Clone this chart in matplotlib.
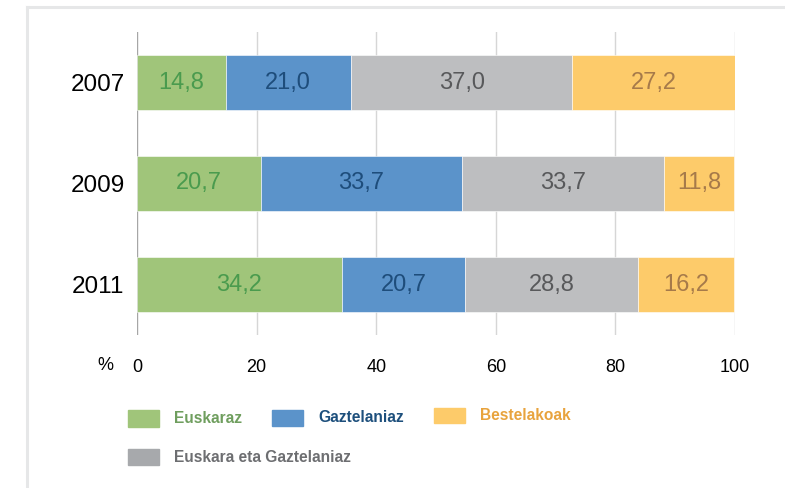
import matplotlib
matplotlib.use("Agg")
import matplotlib.pyplot as plt
from matplotlib.lines import Line2D
from matplotlib.patches import Rectangle

years = ["2007", "2009", "2011"]
euskaraz = [14.8, 20.7, 34.2]
gaztelaniaz = [21.0, 33.7, 20.7]
biak = [37.0, 33.7, 28.8]
bestelakoak = [27.2, 11.8, 16.2]
xticks = [0, 20, 40, 60, 80, 100]

series = [
    ("Euskaraz", euskaraz, "#a0c57a", "#4a9b4e"),
    ("Gaztelaniaz", gaztelaniaz, "#5b93ca", "#1e4d7b"),
    ("Euskara eta Gaztelaniaz", biak, "#bdbec0", "#58595b"),
    ("Bestelakoak", bestelakoak, "#fdcb6a", "#a67a4a"),
]

W, H = 785, 488
fig = plt.figure(figsize=(W / 100, H / 100), dpi=100)
ax = fig.add_axes([137 / W, 1 - 335 / H, (735 - 137) / W, (335 - 32) / H])

ypos = list(range(len(years)))
left = [0.0] * len(years)
for name, vals, col, tcol in series:
    bars = ax.barh(ypos, vals, left=left, height=0.55, color=col,
                   edgecolor="white", linewidth=0.4, zorder=3)
    for b, v in zip(bars, vals):
        ax.text(b.get_x() + b.get_width() / 2, b.get_y() + b.get_height() / 2,
                f"{v:.1f}".replace(".", ","), ha="center", va="center",
                fontsize=17, color=tcol, family="Liberation Sans", zorder=4)
    left = [l + v for l, v in zip(left, vals)]

ax.set_xlim(0, 100)
ax.set_ylim(len(years) - 0.5, -0.5)
ax.set_yticks(ypos)
ax.set_yticklabels(years, fontsize=17.5, family="Liberation Sans")
ax.set_xticks(xticks)
ax.set_xticklabels([str(t) for t in xticks], fontsize=13,
                   family="Liberation Sans")
ax.tick_params(axis="x", length=0, pad=17)
ax.tick_params(axis="y", length=0, pad=9)
for s in ax.spines.values():
    s.set_visible(False)
for t in xticks:
    ax.axvline(t, color="#a6a6a6" if t == 0 else "#d6d6d6", lw=1, zorder=1)

fig.text(113 / W, 1 - 366 / H, "%", ha="right", va="center", fontsize=13,
         family="Liberation Sans")

# frame
fig.add_artist(Line2D([27 / W, 1], [1 - 7 / H, 1 - 7 / H], color="#e6e7e8", lw=2.2))
fig.add_artist(Line2D([27 / W, 27 / W], [0, 1 - 7 / H], color="#e6e7e8", lw=2.2))

# legend
leg = [
    ("Euskaraz", "#a0c57a", "#6f9e5e", 128, 410, 427),
    ("Gaztelaniaz", "#5b93ca", "#1d4f7c", 272, 410, 426),
    ("Bestelakoak", "#fdcb6a", "#e8a33d", 434, 408, 423),
    ("Euskara eta Gaztelaniaz", "#a7a9ac", "#6d6e71", 128, 449, 465),
]
for name, pcol, tcol, x0, y0, y1 in leg:
    fig.add_artist(Rectangle((x0 / W, 1 - y1 / H), 31 / W, (y1 - y0) / H,
                             transform=fig.transFigure, color=pcol))
    fig.text((x0 + 46) / W, 1 - (y0 + y1) / 2 / H, name, ha="left", va="center",
             fontsize=11.2, fontweight="bold", color=tcol,
             family="Liberation Sans")

fig.savefig("out.png", dpi=100)
